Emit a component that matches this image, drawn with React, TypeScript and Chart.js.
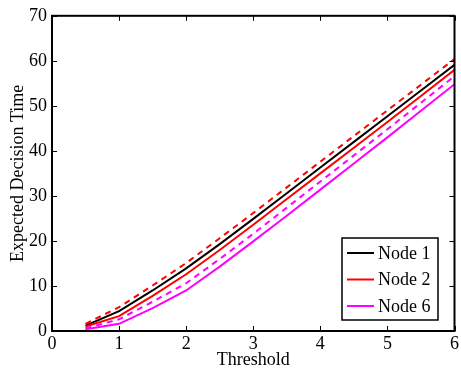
import React, { useEffect, useRef } from "react";
import { Chart, registerables } from "chart.js";

Chart.register(...registerables);

const thresholds = [0.5, 1, 1.5, 2, 2.5, 3, 3.5, 4, 4.5, 5, 5.5, 6];
const node1 = [1.2, 4.4, 9.0, 13.9, 19.3, 24.9, 30.6, 36.3, 42.0, 47.7, 53.4, 59.1];
const node2 = [1.0, 3.3, 7.8, 12.6, 18.0, 23.6, 29.3, 35.0, 40.7, 46.4, 52.2, 58.0];
const node6 = [0.4, 1.6, 5.1, 9.0, 14.3, 19.9, 25.6, 31.4, 37.2, 43.0, 48.9, 54.8];
const node2Dashed = [1.6, 5.3, 10.1, 15.1, 20.6, 26.2, 31.9, 37.6, 43.3, 49.0, 54.7, 60.4];
const node6Dashed = [0.6, 2.6, 6.5, 10.6, 16.0, 21.6, 27.4, 33.2, 39.0, 44.8, 50.7, 56.6];
const xTicks = [0, 1, 2, 3, 4, 5, 6];
const yTicks = [0, 10, 20, 30, 40, 50, 60, 70];
const legendLabels = ["Node 1", "Node 2", "Node 6"];
const legendColors = ["#000000", "#ff0000", "#ff00ff"];

const FONT = "'Liberation Serif', 'Times New Roman', serif";

const pts = (ys: number[]) => thresholds.map((x, i) => ({ x, y: ys[i] }));

const framePlugin = {
  id: "frame",
  afterDraw(chart: any) {
    const { ctx, chartArea } = chart;
    const { left, right, top, bottom } = chartArea;
    const xs = chart.scales.x;
    const ys = chart.scales.y;
    ctx.save();
    ctx.strokeStyle = "#000";
    ctx.lineWidth = 1;
    const tl = 5;
    ctx.beginPath();
    xTicks.forEach((v) => {
      const px = Math.round(xs.getPixelForValue(v)) + 0.5;
      ctx.moveTo(px, bottom);
      ctx.lineTo(px, bottom - tl);
      ctx.moveTo(px, top);
      ctx.lineTo(px, top + tl);
    });
    yTicks.forEach((v) => {
      const py = Math.round(ys.getPixelForValue(v)) + 0.5;
      ctx.moveTo(left, py);
      ctx.lineTo(left + tl, py);
      ctx.moveTo(right, py);
      ctx.lineTo(right - tl, py);
    });
    ctx.stroke();
    ctx.lineWidth = 2;
    ctx.strokeRect(left, top, right - left, bottom - top);

    // legend
    const bx = 342, by = 238, bw = 96, bh = 82;
    ctx.fillStyle = "#fff";
    ctx.fillRect(bx, by, bw, bh);
    ctx.lineWidth = 1.5;
    ctx.strokeRect(bx, by, bw, bh);
    ctx.font = `18px ${FONT}`;
    ctx.textBaseline = "middle";
    ctx.textAlign = "left";
    legendLabels.forEach((lab, i) => {
      const y = by + 15 + i * 26.5;
      ctx.strokeStyle = legendColors[i];
      ctx.lineWidth = 2;
      ctx.beginPath();
      ctx.moveTo(bx + 5, y);
      ctx.lineTo(bx + 32, y);
      ctx.stroke();
      ctx.fillStyle = "#000";
      ctx.fillText(lab, bx + 36, y + 1);
    });
    ctx.restore();
  },
};

export default function App() {
  const ref = useRef<HTMLCanvasElement>(null);
  useEffect(() => {
    document.body.style.margin = "0";
    const solid = (label: string, data: number[], color: string) => ({
      label,
      data: pts(data),
      borderColor: color,
      backgroundColor: color,
      borderWidth: 2,
      pointRadius: 0,
      tension: 0,
      fill: false,
    });
    const dashed = (label: string, data: number[], color: string) => ({
      ...solid(label, data, color),
      borderDash: [6, 5],
    });
    const chart = new Chart(ref.current as HTMLCanvasElement, {
      type: "line",
      data: {
        datasets: [
          dashed("Node 2 (dashed)", node2Dashed, "#ff0000"),
          dashed("Node 6 (dashed)", node6Dashed, "#ff00ff"),
          solid("Node 6", node6, "#ff00ff"),
          solid("Node 2", node2, "#ff0000"),
          solid("Node 1", node1, "#000000"),
        ],
      },
      options: {
        animation: false,
        responsive: false,
        layout: { padding: { top: 14, right: 6, left: 0, bottom: 0 } },
        plugins: { legend: { display: false }, tooltip: { enabled: false } },
        scales: {
          x: {
            type: "linear",
            min: 0,
            max: 6,
            afterFit: (s: any) => {
              s.height = 40;
            },
            afterBuildTicks: (s: any) => {
              s.ticks = xTicks.map((v) => ({ value: v }));
            },
            grid: { display: false, drawTicks: false },
            border: { display: false },
            ticks: { color: "#000", font: { family: FONT, size: 18 }, padding: 2, maxRotation: 0 },
            title: {
              display: true,
              text: "Threshold",
              color: "#000",
              font: { family: FONT, size: 18 },
              padding: { top: 0, bottom: 0 },
            },
          },
          y: {
            type: "linear",
            min: 0,
            max: 70,
            afterFit: (s: any) => {
              s.width = 52;
            },
            afterBuildTicks: (s: any) => {
              s.ticks = yTicks.map((v) => ({ value: v }));
            },
            grid: { display: false, drawTicks: false },
            border: { display: false },
            ticks: { color: "#000", font: { family: FONT, size: 18 }, padding: 5 },
            title: {
              display: true,
              text: "Expected Decision Time",
              color: "#000",
              font: { family: FONT, size: 18 },
              padding: { top: 7, bottom: 0 },
            },
          },
        },
      },
      plugins: [framePlugin],
    });
    return () => chart.destroy();
  }, []);
  return (
    <div style={{ width: 461, height: 371 }}>
      <canvas ref={ref} width={461} height={371} style={{ display: "block" }} />
    </div>
  );
}
